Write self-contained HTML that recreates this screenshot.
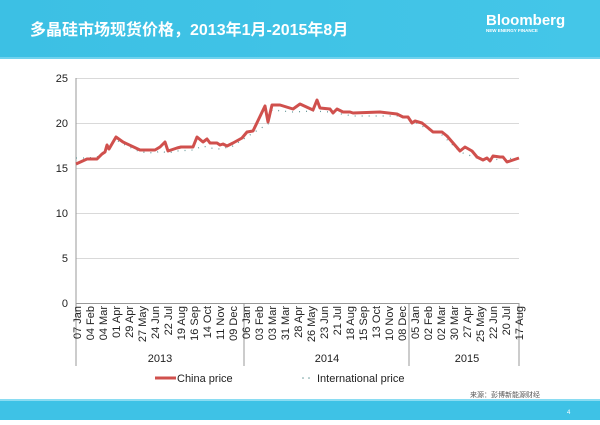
<!DOCTYPE html>
<html><head><meta charset="utf-8"><style>
body{margin:0;width:600px;height:420px;overflow:hidden;background:#fff;font-family:"Liberation Sans","Noto Sans CJK SC",sans-serif;}
</style></head><body>
<svg width="600" height="420" viewBox="0 0 600 420" xmlns="http://www.w3.org/2000/svg" font-family="Liberation Sans, Noto Sans CJK SC, sans-serif">
<defs><linearGradient id="hb" x1="0" x2="1"><stop offset="0" stop-color="#3cc0e4"/><stop offset="1" stop-color="#44c6e8"/></linearGradient></defs>
<rect x="0" y="0" width="600" height="57" fill="url(#hb)"/>
<rect x="0" y="57" width="600" height="2" fill="#6fd2ee"/>
<rect x="0" y="400" width="600" height="20" fill="#3ec2e6"/>
<rect x="0" y="399" width="600" height="2" fill="#8adcf2"/>
<text x="30" y="35" fill="#fff" font-size="16" font-weight="bold">多晶硅市场现货价格，2013年1月-2015年8月</text>
<text x="486" y="25" fill="#fff" font-size="15" font-weight="bold">Bloomberg</text>
<text x="486" y="32" fill="#fff" font-size="4.5" font-weight="bold">NEW ENERGY FINANCE</text>
<text x="567" y="414" fill="#fff" font-size="6">4</text>
<text x="540" y="397" fill="#555" font-size="7" text-anchor="end">来源：彭博新能源财经</text>
<g stroke="#d9d9d9" stroke-width="1">
<line x1="76" x2="519" y1="78.5" y2="78.5"/><line x1="76" x2="519" y1="123.5" y2="123.5"/><line x1="76" x2="519" y1="168.5" y2="168.5"/><line x1="76" x2="519" y1="213.5" y2="213.5"/><line x1="76" x2="519" y1="258.5" y2="258.5"/>
</g>
<g stroke="#999" stroke-width="1">
<line x1="76" x2="76" y1="78" y2="366"/><line x1="76" x2="519" y1="303.5" y2="303.5"/>
<line x1="244" x2="244" y1="303" y2="366"/><line x1="409" x2="409" y1="303" y2="366"/><line x1="519" x2="519" y1="303" y2="366"/>
</g>
<g font-size="11" fill="#222" text-anchor="end">
<text x="68" y="82">25</text><text x="68" y="127">20</text><text x="68" y="172">15</text><text x="68" y="217">10</text><text x="68" y="262">5</text><text x="68" y="307">0</text>
</g>
<g font-size="11" fill="#222" text-anchor="end">
<text transform="translate(81,306) rotate(-90)">07 Jan</text>
<text transform="translate(94,306) rotate(-90)">04 Feb</text>
<text transform="translate(107,306) rotate(-90)">04 Mar</text>
<text transform="translate(120,306) rotate(-90)">01 Apr</text>
<text transform="translate(133,306) rotate(-90)">29 Apr</text>
<text transform="translate(146,306) rotate(-90)">27 May</text>
<text transform="translate(159,306) rotate(-90)">24 Jun</text>
<text transform="translate(172,306) rotate(-90)">22 Jul</text>
<text transform="translate(185,306) rotate(-90)">19 Aug</text>
<text transform="translate(198,306) rotate(-90)">16 Sep</text>
<text transform="translate(211,306) rotate(-90)">14 Oct</text>
<text transform="translate(224,306) rotate(-90)">11 Nov</text>
<text transform="translate(237,306) rotate(-90)">09 Dec</text>
<text transform="translate(250,306) rotate(-90)">06 Jan</text>
<text transform="translate(263,306) rotate(-90)">03 Feb</text>
<text transform="translate(276,306) rotate(-90)">03 Mar</text>
<text transform="translate(289,306) rotate(-90)">31 Mar</text>
<text transform="translate(302,306) rotate(-90)">28 Apr</text>
<text transform="translate(315,306) rotate(-90)">26 May</text>
<text transform="translate(328,306) rotate(-90)">23 Jun</text>
<text transform="translate(341,306) rotate(-90)">21 Jul</text>
<text transform="translate(354,306) rotate(-90)">18 Aug</text>
<text transform="translate(367,306) rotate(-90)">15 Sep</text>
<text transform="translate(380,306) rotate(-90)">13 Oct</text>
<text transform="translate(393,306) rotate(-90)">10 Nov</text>
<text transform="translate(406,306) rotate(-90)">08 Dec</text>
<text transform="translate(419,306) rotate(-90)">05 Jan</text>
<text transform="translate(432,306) rotate(-90)">02 Feb</text>
<text transform="translate(445,306) rotate(-90)">02 Mar</text>
<text transform="translate(458,306) rotate(-90)">30 Mar</text>
<text transform="translate(471,306) rotate(-90)">27 Apr</text>
<text transform="translate(484,306) rotate(-90)">25 May</text>
<text transform="translate(497,306) rotate(-90)">22 Jun</text>
<text transform="translate(510,306) rotate(-90)">20 Jul</text>
<text transform="translate(523,306) rotate(-90)">17 Aug</text>
</g>
<g font-size="11" fill="#222" text-anchor="middle">
<text x="160" y="362">2013</text><text x="327" y="362">2014</text><text x="467" y="362">2015</text>
</g>
<polyline fill="none" stroke="#6a9a9a" stroke-width="1.3" stroke-dasharray="1 6" points="76,158 87,158 97,157 102,153 107,150 116,140 123,144 140,152 155,153 160,151 168,153 177,151 193,150 203,146 210,148 220,149 233,146 242,140 253,133 268,124 272,110 293,112 313,111 330,112 353,116 380,116 397,116 408,119 415,122 427,129 442,135 460,152 477,158 490,161 503,158 519,159"/>
<polyline fill="none" stroke="#d0504d" stroke-width="3" stroke-linejoin="round" points="76,164 87,159 97,159 102,154 105,152 107,145 109,149 116,137 123,142 140,150 155,150 160,147 165,142 168,151 177,148 181,147 193,147 197,137 203,142 207,139 210,143 217,143 220,145 223,144 227,146 233,143 242,138 247,132 253,131 265,106 268,122 272,105 280,105 293,109 300,104 313,110 317,100 320,108 330,109 333,113 337,109 343,112 350,112 353,113 380,112 397,114 403,117 408,117 412,123 415,121 422,123 427,127 433,132 442,132 447,136 460,151 465,147 472,151 477,157 483,160 487,158 490,161 493,156 500,157 503,157 507,162 513,160 519,158"/>
<line x1="155" x2="176" y1="378" y2="378" stroke="#d0504d" stroke-width="3"/>
<text x="177" y="382" font-size="11" fill="#222">China price</text>
<circle cx="303" cy="378" r="0.8" fill="#6a9a9a"/><circle cx="309" cy="378" r="0.8" fill="#6a9a9a"/>
<text x="317" y="382" font-size="11" fill="#222">International price</text>
</svg>
</body></html>
